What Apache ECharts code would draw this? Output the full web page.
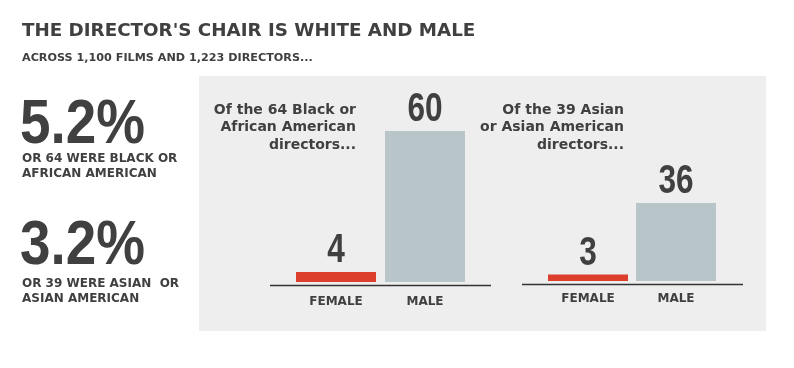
<!DOCTYPE html>
<html>
<head>
<meta charset="utf-8">
<script src="https://cdn.jsdelivr.net/npm/echarts@6/dist/echarts.min.js"></script>
<style>
html,body{margin:0;padding:0;background:#fff;}
#chart{width:794px;height:368px;}
</style>
</head>
<body>
<div id="chart"></div>
<script>
const categories = ['FEMALE', 'MALE'];
const blackDirectors = [4, 60];
const asianDirectors = [3, 36];
const barColors = ['#dc3f2c', '#b8c5c9'];

const titleText = "THE DIRECTOR'S CHAIR IS WHITE AND MALE";
const subtitleText = 'ACROSS 1,100 FILMS AND 1,223 DIRECTORS...';
const blackPct = '5.2%';
const blackNote = ['OR 64 WERE BLACK OR', 'AFRICAN AMERICAN'];
const asianPct = '3.2%';
const asianNote = ['OR 39 WERE ASIAN  OR', 'ASIAN AMERICAN'];
const blackLead = ['Of the 64 Black or', 'African American', 'directors...'];
const asianLead = ['Of the 39 Asian', 'or Asian American', 'directors...'];

const TXT = '#404040';
const WIDE = '"DejaVu Sans", sans-serif';
const NARROW = '"Liberation Sans", Arial, sans-serif';

const chart = echarts.init(document.getElementById('chart'), null, {renderer: 'canvas'});

function txt(text, x, y, size, opts) {
  opts = opts || {};
  return {
    type: 'text', x: x, y: y, z: 10,
    scaleX: opts.scaleX || 1,
    style: {
      text: text,
      font: 'bold ' + size + 'px ' + (opts.family || WIDE),
      fill: TXT,
      textAlign: opts.align || 'left',
      textVerticalAlign: 'middle'
    }
  };
}

const graphics = [
  {type: 'rect', shape: {x: 199, y: 76, width: 567, height: 255}, style: {fill: '#eeeeee'}, z: -10},
  txt(titleText, 22, 31, 18.3),
  txt(subtitleText, 22, 58, 11.2),
  txt(blackPct, 20, 126, 63, {family: NARROW, scaleX: 0.87}),
  txt(blackNote[0], 22, 159, 12),
  txt(blackNote[1], 22, 174, 12),
  txt(asianPct, 20, 247, 63, {family: NARROW, scaleX: 0.87}),
  txt(asianNote[0], 22, 284, 12),
  txt(asianNote[1], 22, 299, 12),
  txt(blackLead[0], 356, 110, 14, {align: 'right'}),
  txt(blackLead[1], 356, 127.5, 14, {align: 'right'}),
  txt(blackLead[2], 356, 145, 14, {align: 'right'}),
  txt(asianLead[0], 624, 110, 14, {align: 'right'}),
  txt(asianLead[1], 624, 127.5, 14, {align: 'right'}),
  txt(asianLead[2], 624, 145, 14, {align: 'right'}),
  {type: 'line', shape: {x1: 270, y1: 285.5, x2: 491, y2: 285.5}, style: {stroke: '#333', lineWidth: 1.5}, z: 5},
  {type: 'line', shape: {x1: 522, y1: 284.5, x2: 743, y2: 284.5}, style: {stroke: '#333', lineWidth: 1.5}, z: 5}
];

function xAx(gi, margin) {
  return {
    type: 'category', gridIndex: gi, data: categories,
    axisLine: {show: false}, axisTick: {show: false},
    axisLabel: {margin: margin, color: TXT, fontFamily: WIDE, fontWeight: 'bold', fontSize: 12, lineHeight: 12}
  };
}
function yAx(gi, max) {
  return {
    type: 'value', gridIndex: gi, min: 0, max: max, show: false, splitLine: {show: false}
  };
}
function barSeries(gi, data) {
  return {
    type: 'bar', xAxisIndex: gi, yAxisIndex: gi, data: data, barWidth: 80,
    itemStyle: {color: p => barColors[p.dataIndex]}
  };
}
function labelSeries(gi, data) {
  return {
    type: 'custom', xAxisIndex: gi, yAxisIndex: gi, z: 10,
    data: categories.map((c, i) => [i, data[i]]),
    renderItem: function (params, api) {
      const pt = api.coord([api.value(0), api.value(1)]);
      return {
        type: 'text', x: pt[0], y: pt[1] - 21, scaleX: 0.78,
        style: {
          text: String(api.value(1)),
          font: 'bold 40.5px ' + NARROW,
          fill: TXT,
          textAlign: 'center',
          textVerticalAlign: 'middle'
        }
      };
    }
  };
}

chart.setOption({
  animation: false,
  backgroundColor: '#ffffff',
  grid: [
    {left: 291.5, width: 178, top: 131, bottom: 368 - 282},
    {left: 544, width: 176, top: 203, bottom: 368 - 281}
  ],
  xAxis: [xAx(0, 14), xAx(1, 12)],
  yAxis: [yAx(0, 60), yAx(1, 36)],
  series: [
    barSeries(0, blackDirectors), barSeries(1, asianDirectors),
    labelSeries(0, blackDirectors), labelSeries(1, asianDirectors)
  ],
  graphic: graphics
});
</script>
</body>
</html>
